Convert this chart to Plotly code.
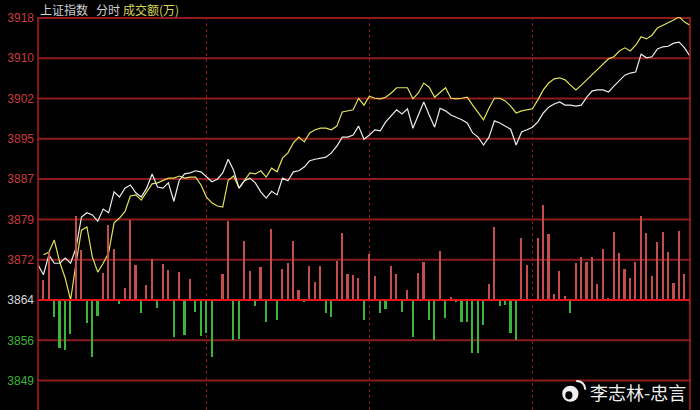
import plotly.graph_objects as go

# 2-minute points, 9:30 - 15:00
idx = list(range(121))

index_price = [
    3870.7, 3868.8, 3872.6, 3871.0, 3871.0, 3872.0, 3871.0, 3873.9, 3879.8, 3880.6,
    3880.2, 3879.0, 3881.3, 3880.6, 3884.6, 3883.6, 3885.3, 3885.9, 3884.4, 3883.6,
    3885.3, 3888.0, 3885.5, 3885.3, 3886.3, 3882.8, 3886.8, 3888.0, 3888.2, 3888.6,
    3888.4, 3887.4, 3886.5, 3887.0, 3888.2, 3890.8, 3888.7, 3885.3, 3886.7, 3887.2,
    3886.3, 3884.6, 3883.4, 3884.7, 3884.0, 3887.2, 3886.7, 3888.4, 3888.6, 3889.3,
    3890.5, 3890.8, 3891.0, 3891.2, 3892.0, 3893.3, 3895.0, 3895.0, 3895.4, 3897.1,
    3894.6, 3895.4, 3896.4, 3896.2, 3897.9, 3899.0, 3900.2, 3899.4, 3900.4, 3896.7,
    3899.2, 3901.7, 3899.2, 3896.9, 3900.5, 3900.0, 3899.2, 3898.8, 3898.3, 3897.7,
    3895.8, 3895.0, 3893.5, 3895.0, 3898.1, 3897.7, 3897.1, 3896.5, 3893.5, 3896.0,
    3896.4, 3896.9, 3897.9, 3899.6, 3900.7, 3901.3, 3901.7, 3901.1, 3901.1, 3900.9,
    3901.1, 3902.6, 3903.8, 3904.0, 3904.0, 3903.6, 3904.7, 3905.7, 3906.8, 3907.2,
    3907.4, 3910.8, 3910.1, 3910.3, 3911.8, 3912.2, 3912.3, 3912.9, 3913.1, 3912.0,
    3910.4,
]

avg_price = [
    None, 3872.6, 3873.1, 3875.4, 3871.2, 3868.2, 3864.0, 3871.0, 3877.3, 3877.9,
    3872.2, 3869.3, 3871.0, 3873.0, 3878.7, 3879.6, 3880.8, 3883.8, 3884.0, 3883.0,
    3884.6, 3886.1, 3886.3, 3886.8, 3887.2, 3887.2, 3887.6, 3887.2, 3887.4, 3887.4,
    3885.9, 3883.6, 3882.5, 3881.9, 3881.7, 3886.8, 3887.6, 3885.3, 3886.7, 3888.2,
    3888.0, 3888.6, 3887.4, 3889.1, 3888.4, 3891.0, 3892.0, 3893.9, 3895.0, 3894.1,
    3895.8, 3896.4, 3896.7, 3896.7, 3896.4, 3897.1, 3899.8, 3900.0, 3900.2, 3902.4,
    3901.1, 3902.8, 3902.4, 3902.3, 3902.6, 3903.4, 3904.4, 3904.4, 3904.4, 3902.3,
    3903.4, 3905.3, 3904.5, 3902.6, 3903.6, 3904.4, 3902.4, 3902.3, 3902.4, 3902.6,
    3901.1, 3899.6, 3898.3, 3900.5, 3902.4, 3902.4, 3901.9, 3900.9, 3899.6, 3900.0,
    3900.2, 3900.4, 3902.1, 3904.0, 3905.3, 3906.1, 3906.3, 3905.9, 3904.9, 3904.0,
    3904.9, 3905.9, 3907.0, 3907.8, 3908.9, 3909.9, 3910.3, 3911.4, 3912.0, 3911.4,
    3912.5, 3914.1, 3913.7, 3914.4, 3915.8, 3916.3, 3916.7, 3917.3, 3917.9, 3916.9,
    3916.3,
]

# 成交额 bars, +red / -green
amount = [
    0, 20, 48, -17, -48, -50, -34, 84, 50, -23,
    -57, -16, 27, 75, 51, -4, 12, 80, 35, -13,
    15, 41, -8, 36, 30, -37, 28, -35, 21, -12,
    -36, -33, -57, 1, 26, 79, -40, -39, 59, 29,
    -6, 33, -22, 71, -20, 31, 37, 59, 10, -2,
    34, 18, 34, -13, -17, 39, 67, 26, 25, 22,
    -20, 46, 24, -13, -9, 34, 26, -12, 10, -37,
    27, 38, -20, -40, 49, -18, 3, -2, -22, -22,
    -53, -53, -25, 16, 73, -6, -5, -33, -40, 62,
    35, 0, 62, 95, 66, 6, 29, 4, -13, 37,
    43, 38, 43, 16, 51, 2, 68, 47, 31, 22,
    38, 84, 67, 24, 58, 68, 48, 17, 69, 26,
    -4,
]

tick_labels = ['3849', '3856', '3864', '3872', '3879', '3887', '3895', '3902', '3910', '3918']
base = 3864.0
step = 7.6714
hour_marks = [31, 61, 91]

RED = '#c83c3c'
GREEN = '#3cb43c'
GRID = '#8e1c1c'

tick_vals = [base + (k - 2) * step for k in range(len(tick_labels))]
tick_text = []
for v, t in zip(tick_vals, tick_labels):
    c = RED if v > base + 0.1 else (GREEN if v < base - 0.1 else '#d8d8d8')
    tick_text.append(f"<span style='color:{c}'>{t}</span>")

vol_k = step / 40.3
y_min = base - 110 * vol_k
y_max = base + 283 * vol_k

bar_colors = ['#c44e4e' if a >= 0 else '#3cb43c' for a in amount]

fig = go.Figure()
fig.add_trace(go.Bar(x=idx, y=amount, marker=dict(color=bar_colors, line=dict(width=0)),
                     width=0.3, yaxis='y2', showlegend=False))
fig.add_trace(go.Scatter(x=idx, y=avg_price, mode='lines', line=dict(color='#e2e25a', width=1.2),
                         showlegend=False))
fig.add_trace(go.Scatter(x=idx, y=index_price, mode='lines', line=dict(color='#ececec', width=1.2),
                         showlegend=False))

shapes = []
for v in tick_vals:
    shapes.append(dict(type='line', xref='paper', x0=0, x1=1, yref='y', y0=v, y1=v,
                       line=dict(color=GRID, width=2), layer='below'))
shapes.append(dict(type='line', xref='paper', x0=0, x1=1, yref='y', y0=base, y1=base,
                   line=dict(color='#e8141a', width=2), layer='above'))
for m in hour_marks:
    shapes.append(dict(type='line', xref='x', x0=m, x1=m, yref='paper', y0=0, y1=1,
                       line=dict(color='#8e1c1c', width=1, dash='dot'), layer='below'))
for xe in [0, 1]:
    shapes.append(dict(type='line', xref='paper', x0=xe, x1=xe, yref='paper', y0=0, y1=1,
                       line=dict(color='#b01e1e', width=1.5), layer='above'))

# weibo logo, rough
shapes.append(dict(type='circle', xref='paper', yref='paper', x0=0.8040, x1=0.8290, y0=0.021, y1=0.062,
                   fillcolor='#f0f0f0', line=dict(width=0)))
shapes.append(dict(type='circle', xref='paper', yref='paper', x0=0.8087, x1=0.8197, y0=0.027, y1=0.048,
                   fillcolor='#000000', line=dict(width=0)))
shapes.append(dict(type='path', xref='paper', yref='paper',
                   path='M 0.8255 0.0740 Q 0.8385 0.0740 0.8395 0.0520',
                   line=dict(color='#f0f0f0', width=2)))

hdr_font = dict(family='Noto Sans CJK SC', size=12, color='#d0d0d0')

fig.update_layout(
    width=700, height=410,
    margin=dict(l=38, r=10, t=17, b=0),
    paper_bgcolor='black', plot_bgcolor='black',
    bargap=0,
    shapes=shapes,
    xaxis=dict(range=[0, 120], showgrid=False, zeroline=False, showticklabels=False, ticks=''),
    yaxis=dict(range=[y_min, y_max], tickvals=tick_vals, ticktext=tick_text, showgrid=False,
               zeroline=False, ticks='', ticklabelstandoff=3,
               tickfont=dict(family='Liberation Sans, Arial', size=12)),
    yaxis2=dict(range=[(y_min - base) / vol_k, (y_max - base) / vol_k], overlaying='y', visible=False),
    annotations=[
        dict(text='上证指数', x=0.0, y=1.0185, xref='paper', yref='paper', xanchor='left', yanchor='middle',
             showarrow=False, font=hdr_font),
        dict(text='分时', x=0.086, y=1.0185, xref='paper', yref='paper', xanchor='left', yanchor='middle',
             showarrow=False, font=hdr_font),
        dict(text='成交额(万)', x=0.127, y=1.0185, xref='paper', yref='paper', xanchor='left',
             yanchor='middle', showarrow=False,
             font=dict(family='Noto Sans CJK SC', size=12, color='#d6d65a')),
        dict(text='李志林-忠言', x=0.843, y=0.046, xref='paper', yref='paper', xanchor='left',
             yanchor='middle', showarrow=False,
             font=dict(family='Noto Sans CJK SC', size=18, color='#f0f0f0')),
    ],
)

# page body has an 8px default margin; drop it so the figure sits at 0,0
fig.write_html("out.html", config={'displayModeBar': False},
               post_script="document.body.style.margin='0';document.body.style.background='black';")
